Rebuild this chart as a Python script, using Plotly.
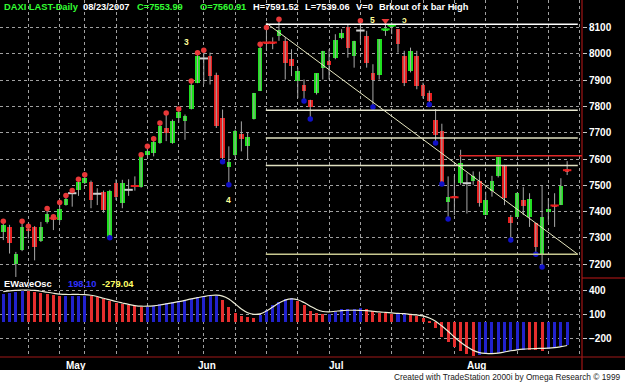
import plotly.graph_objects as go

# ---------------- data ----------------
opens = [7323, 7342, 7203, 7253, 7335, 7342, 7289, 7361, 7378, 7368,
         7425, 7470, 7482, 7508, 7514, 7468, 7476, 7304, 7508, 7432,
         7483, 7500, 7495, 7616, 7622, 7661, 7718, 7661, 7756, 7743,
         7790, 7890, 7982, 7991, 7921, 7756, 7571, 7616, 7696, 7648,
         7753, 7858, 8045, 8045, 8068, 8049, 7979, 7896, 7883, 7823,
         7849, 7947, 7973, 7985, 8058, 8103, 7991, 8088, 8068, 7925,
         7921, 8090, 8105, 8093, 7991, 7934, 7991, 7880, 7850, 7750,
         7708, 7435, 7457, 7508, 7508, 7518, 7517, 7387, 7480, 7536,
         7578, 7380, 7380, 7444, 7380, 7358, 7241, 7400, 7427, 7425,
         7561]
highs = [7364, 7350, 7247, 7364, 7345, 7345, 7361, 7412, 7381, 7435,
         7461, 7480, 7523, 7540, 7518, 7489, 7480, 7483, 7523, 7521,
         7523, 7534, 7616, 7648, 7677, 7737, 7775, 7750, 7790, 7769,
         7896, 8004, 8013, 8004, 7928, 7788, 7648, 7711, 7743, 7701,
         7851, 8036, 8100, 8062, 8131, 8062, 8017, 7947, 7902, 7825,
         7925, 8011, 8017, 8074, 8093, 8110, 8049, 8125, 8087, 7960,
         8055, 8125, 8119, 8093, 8011, 8023, 8011, 7890, 7860, 7790,
         7734, 7534, 7536, 7635, 7546, 7553, 7552, 7476, 7536, 7607,
         7578, 7387, 7472, 7493, 7470, 7358, 7498, 7451, 7470, 7527,
         7592]
lows = [7292, 7241, 7152, 7250, 7298, 7215, 7285, 7355, 7330, 7361,
        7423, 7419, 7460, 7505, 7413, 7425, 7396, 7301, 7444, 7413,
        7460, 7480, 7491, 7610, 7610, 7658, 7668, 7658, 7737, 7673,
        7788, 7888, 7885, 7883, 7718, 7590, 7502, 7610, 7629, 7597,
        7750, 7858, 8011, 8017, 8049, 7902, 7915, 7832, 7820, 7752,
        7845, 7902, 7902, 7979, 8055, 7985, 7947, 8042, 7947, 7798,
        7902, 8068, 8074, 8004, 7877, 7929, 7865, 7830, 7807, 7661,
        7505, 7372, 7387, 7502, 7393, 7502, 7419, 7387, 7457, 7530,
        7425, 7292, 7380, 7387, 7342, 7238, 7190, 7361, 7342, 7425,
        7539]
closes = [7349, 7281, 7241, 7342, 7325, 7266, 7342, 7390, 7372, 7409,
          7448, 7470, 7512, 7527, 7444, 7468, 7406, 7480, 7457, 7508,
          7483, 7495, 7610, 7629, 7663, 7727, 7699, 7743, 7778, 7765,
          7883, 7992, 7982, 7915, 7724, 7603, 7590, 7705, 7676, 7684,
          7851, 8023, 8040, 8040, 8090, 7965, 7953, 7934, 7858, 7798,
          7925, 8011, 7958, 8052, 8078, 8023, 8049, 8088, 7965, 7900,
          8055, 8095, 8110, 8036, 7890, 8011, 7877, 7840, 7820, 7692,
          7508, 7455, 7452, 7584, 7508, 7534, 7434, 7444, 7517, 7607,
          7451, 7358, 7472, 7421, 7450, 7266, 7380, 7409, 7420, 7499,
          7554]

hi_signal_bars = [0, 3, 4, 7, 8, 9, 10, 11, 12, 13, 22, 23, 24, 25, 26, 28,
                  30, 31, 32, 41, 42, 44, 57]
peak_marker_bars = [61]
lo_signal_bars = [17, 35, 36, 48, 49, 59, 68, 69, 70, 71, 81, 85, 86]

osc_hist = [345, 362, 376, 392, 388, 370, 360, 350, 340, 326,
            327, 329, 330, 332, 326, 309, 285, 262, 244, 227,
            211, 200, 188, 190, 203, 222, 240, 252, 266, 282,
            295, 308, 318, 326, 332, 280, 194, 120, 82, 63,
            55, 95, 150, 210, 255, 290, 300, 268, 215, 145,
            112, 105, 110, 130, 160, 165, 168, 172, 160, 135,
            120, 115, 108, 110, 112, 100, 85, 55, 15, -73,
            -175, -240, -300, -350, -390, -410, -400, -390, -380, -372,
            -362, -352, -342, -335, -340, -345, -350, -325, -305, -290,
            -279]
osc_line = [380, 390, 396, 400, 400, 395, 385, 372, 360, 350,
            345, 345, 345, 343, 335, 320, 298, 278, 258, 240,
            222, 208, 200, 200, 205, 215, 228, 242, 256, 272,
            290, 305, 320, 332, 336, 325, 290, 230, 165, 120,
            100, 105, 140, 190, 240, 275, 290, 280, 245, 200,
            160, 135, 130, 138, 146, 150, 150, 148, 145, 138,
            130, 124, 118, 112, 108, 100, 92, 80, 55, 15,
            -45, -110, -180, -245, -300, -345, -372, -382, -385, -380,
            -365, -350, -338, -330, -325, -322, -320, -318, -312, -300,
            -285]

week_starts = [4, 9, 13, 18, 23, 28, 32, 37, 42, 47, 52, 57, 62, 67, 72, 77, 82, 87, 92]
month_starts = [10, 31, 52, 74]
month_labels = ["May", "Jun", "Jul", "Aug"]
price_ticks = [7200, 7300, 7400, 7500, 7600, 7700, 7800, 7900, 8000, 8100]
osc_ticks = [400, 100, -200]

sr_levels = [8112, 7785, 7680, 7575, 7238]
breakout_level = 7612
trend_x = [42, 91.7]
trend_y = [8116, 7238]
wave_text = ["3", "4", "5", "ↄ"]
wave_x = [29.3, 36.0, 59.0, 64.1]
wave_y = [8043, 7444, 8128, 8128]

title_parts = [("DAXI LAST-Daily", "#33ff33"), ("08/23/2007", "#ffffff"),
               ("C=7553.99", "#33ff33"), ("O=7560.91", "#33ff33"),
               ("H=7591.52", "#ffffff"), ("L=7539.06", "#ffffff"),
               ("V=0", "#ffffff"), ("Brkout of x bar High", "#ffffff")]

# ---------------- figure ----------------
W, H = 625, 383
n = len(closes)
idx = list(range(n))

GREEN = "#1fe01f"
RED = "#e82020"
BLUE_DOT = "#1010c8"
WICK = "#a8a8a8"

fig = go.Figure()

# wicks
wx, wy = [], []
for i in idx:
    wx += [i, i, None]
    wy += [lows[i], highs[i], None]
fig.add_trace(go.Scatter(x=wx, y=wy, mode="lines", line=dict(color=WICK, width=1),
                         hoverinfo="skip", xaxis="x", yaxis="y"))

# bodies
body_col = []
for o, c in zip(opens, closes):
    body_col.append(GREEN if c > o else (RED if c < o else "#d0d0d0"))
fig.add_trace(go.Bar(x=idx, y=[abs(c - o) for o, c in zip(opens, closes)],
                     base=[min(o, c) for o, c in zip(opens, closes)],
                     marker=dict(color=body_col, line=dict(width=0)), width=0.74,
                     xaxis="x", yaxis="y"))

# small bodies / dojis as ticks
dx = [i for i in idx if abs(closes[i] - opens[i]) < 8]
fig.add_trace(go.Scatter(x=dx, y=[(opens[i] + closes[i]) / 2 for i in dx], mode="markers",
                         marker=dict(symbol="line-ew", size=6,
                                     line=dict(width=2, color=[body_col[i] for i in dx])),
                         xaxis="x", yaxis="y"))

# signal dots
fig.add_trace(go.Scatter(x=hi_signal_bars, y=[highs[i] for i in hi_signal_bars], mode="markers",
                         marker=dict(color="#e83838", size=5.5, line=dict(width=0)),
                         xaxis="x", yaxis="y"))
fig.add_trace(go.Scatter(x=peak_marker_bars, y=[highs[i] for i in peak_marker_bars], mode="markers",
                         marker=dict(color="#e83838", size=7, symbol="triangle-down",
                                     line=dict(width=0)),
                         xaxis="x", yaxis="y"))
fig.add_trace(go.Scatter(x=lo_signal_bars, y=[lows[i] for i in lo_signal_bars], mode="markers",
                         marker=dict(color=BLUE_DOT, size=5.5, line=dict(width=0)),
                         xaxis="x", yaxis="y"))

# trendline
fig.add_trace(go.Scatter(x=trend_x, y=trend_y, mode="lines",
                         line=dict(color="#e8e8c0", width=1), xaxis="x", yaxis="y"))

# oscillator
osc_col = []
for i, v in enumerate(osc_hist):
    prev = osc_hist[i - 1] if i > 0 else v - 1
    osc_col.append("#2222cc" if v > prev else "#e62e2e")
fig.add_trace(go.Bar(x=idx, y=osc_hist, marker=dict(color=osc_col, line=dict(width=0)),
                     width=0.48, xaxis="x2", yaxis="y2"))
fig.add_trace(go.Scatter(x=idx, y=osc_line, mode="lines",
                         line=dict(color="#eeeed8", width=1.2, shape="spline"),
                         xaxis="x2", yaxis="y2"))

# ---------------- layout ----------------
def py(px):
    return (H - px) / H

x_right = 582 / W
x_range = [-3.3 / 6.265, (582 - 3.3) / 6.265]
price_dom = [py(278), 1.0]
osc_dom = [py(357), py(279)]

grid = dict(showgrid=True, gridcolor="#a0a0a0", griddash="dot", gridwidth=1)
tfont = dict(family="Liberation Sans, Arial", size=10, color="white", weight="bold")

fig.update_layout(
    width=W, height=H, margin=dict(l=0, r=0, t=0, b=0),
    paper_bgcolor="white", plot_bgcolor="black", showlegend=False,
    barmode="overlay", bargap=0,
    xaxis=dict(domain=[0, x_right], range=x_range, tickvals=week_starts,
               showticklabels=False, zeroline=False, anchor="y", **grid),
    xaxis2=dict(domain=[0, x_right], range=x_range, tickvals=week_starts,
                showticklabels=False, zeroline=False, anchor="y2", matches="x", **grid),
    yaxis=dict(domain=price_dom, range=[7148, 8204], tickvals=price_ticks, side="right",
               ticks="outside", ticklen=4, tickcolor="#c8c8c8", tickfont=tfont,
               zeroline=False, anchor="x", **grid),
    yaxis2=dict(domain=osc_dom, range=[-427, 536], tickvals=osc_ticks, side="right",
                ticks="outside", ticklen=4, tickcolor="#c8c8c8", tickfont=tfont,
                zeroline=False, anchor="x2", **grid),
)

shapes = []
shapes.append(dict(type="rect", xref="paper", yref="paper", x0=0, x1=1, y0=py(370), y1=1,
                   fillcolor="black", line=dict(width=0), layer="below"))
lvl_cols = ["#ffffff", "#e8e8d0", "#e0e0c0", "#e0e0c0", "#c8c890"]
for lv, col in zip(sr_levels, lvl_cols):
    shapes.append(dict(type="line", xref="x", yref="y", x0=41.9, x1=91.7, y0=lv, y1=lv,
                       line=dict(color=col, width=1.5)))
shapes.append(dict(type="line", xref="x", yref="y", x0=72.8, x1=92.4, y0=breakout_level,
                   y1=breakout_level, line=dict(color="#e02828", width=1.5)))
shapes.append(dict(type="line", xref="paper", yref="paper", x0=x_right, x1=x_right,
                   y0=py(370), y1=1, line=dict(color="#c01818", width=1)))
shapes.append(dict(type="line", xref="paper", yref="paper", x0=x_right, x1=1,
                   y0=py(278), y1=py(278), line=dict(color="#c01818", width=1)))
shapes.append(dict(type="line", xref="paper", yref="paper", x0=0, x1=1,
                   y0=py(357), y1=py(357), line=dict(color="#a01818", width=1)))
fig.update_layout(shapes=shapes)

ann = []
tx = [2, 81, 135, 198, 251, 303, 354, 377]
for (t, col), x in zip(title_parts, tx):
    ann.append(dict(text=t, x=x / W, y=py(7), xref="paper", yref="paper",
                    xanchor="left", yanchor="middle", showarrow=False,
                    font=dict(family="Liberation Sans, Arial", size=9.3, color=col, weight="bold")))
for t, x, y in zip(wave_text, wave_x, wave_y):
    ann.append(dict(text=t, x=x, y=y, xref="x", yref="y", showarrow=False,
                    font=dict(family="Liberation Sans, DejaVu Sans", size=8.5, color="#ffff99",
                              weight="bold")))
for t, m in zip(month_labels, month_starts):
    ann.append(dict(text=t, x=m - 0.3, y=py(365), xref="x", yref="paper", xanchor="left",
                    yanchor="middle", showarrow=False, font=tfont))
osc_title = [("EWaveOsc", "#ffffff", 2), ("198.10", "#3030ff", 66), ("-279.04", "#ffff66", 100)]
for t, col, x in osc_title:
    ann.append(dict(text=t, x=x / W, y=py(284), xref="paper", yref="paper",
                    xanchor="left", yanchor="middle", showarrow=False,
                    font=dict(family="Liberation Sans, Arial", size=9.3, color=col, weight="bold")))
ann.append(dict(text="Created with TradeStation 2000i by Omega Research © 1999",
                x=622 / W, y=py(377), xref="paper", yref="paper", xanchor="right",
                yanchor="middle", showarrow=False,
                font=dict(family="Liberation Sans, Arial", size=8.3, color="#202020")))
fig.update_layout(annotations=ann)

fig.write_html("out.html")
